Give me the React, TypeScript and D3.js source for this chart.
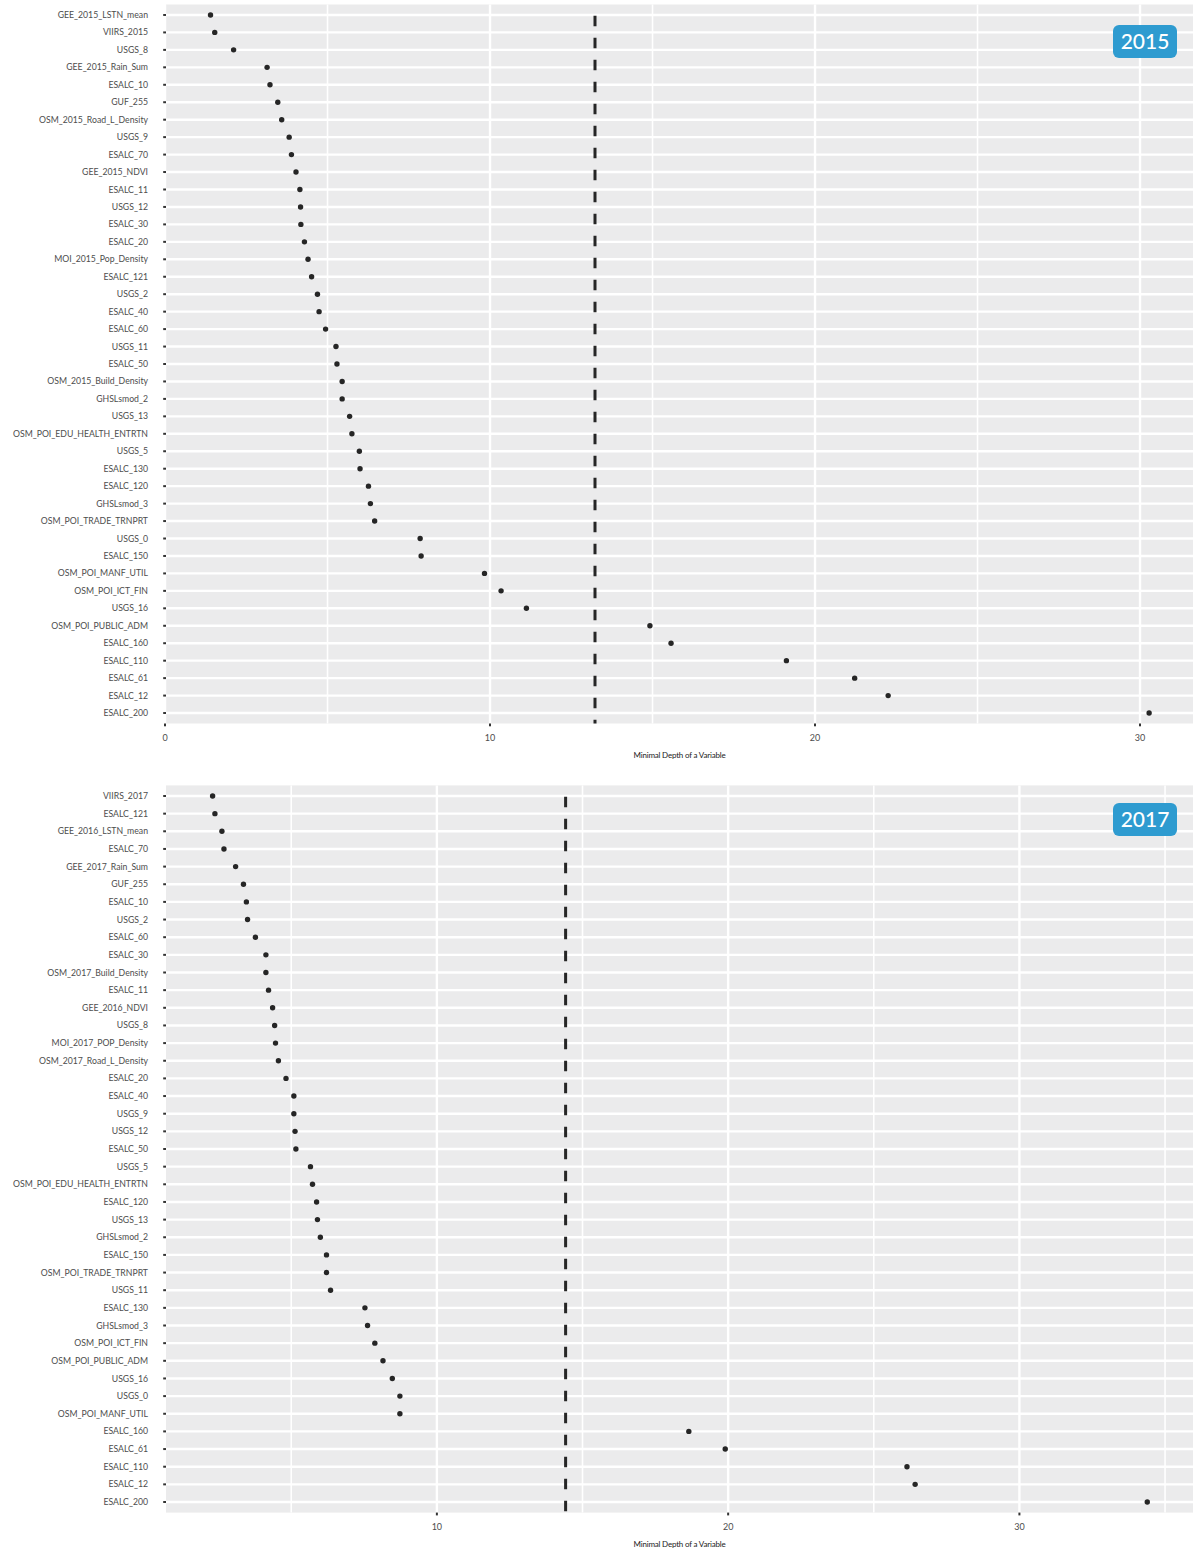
import React from "react";
import * as d3 from "d3";

const VARS_2015 = [
  "GEE_2015_LSTN_mean", "VIIRS_2015", "USGS_8", "GEE_2015_Rain_Sum", "ESALC_10", "GUF_255",
  "OSM_2015_Road_L_Density", "USGS_9", "ESALC_70", "GEE_2015_NDVI", "ESALC_11", "USGS_12",
  "ESALC_30", "ESALC_20", "MOI_2015_Pop_Density", "ESALC_121", "USGS_2", "ESALC_40", "ESALC_60",
  "USGS_11", "ESALC_50", "OSM_2015_Build_Density", "GHSLsmod_2", "USGS_13",
  "OSM_POI_EDU_HEALTH_ENTRTN", "USGS_5", "ESALC_130", "ESALC_120", "GHSLsmod_3",
  "OSM_POI_TRADE_TRNPRT", "USGS_0", "ESALC_150", "OSM_POI_MANF_UTIL", "OSM_POI_ICT_FIN",
  "USGS_16", "OSM_POI_PUBLIC_ADM", "ESALC_160", "ESALC_110", "ESALC_61", "ESALC_12", "ESALC_200",
];
const DEPTH_2015 = [
  1.40, 1.53, 2.11, 3.14, 3.23, 3.47, 3.59, 3.82, 3.89, 4.03, 4.15, 4.17, 4.18, 4.29, 4.40,
  4.51, 4.69, 4.74, 4.94, 5.26, 5.29, 5.45, 5.45, 5.68, 5.75, 5.98, 6.00, 6.26, 6.32, 6.45,
  7.85, 7.88, 9.83, 10.34, 11.12, 14.92, 15.57, 19.12, 21.22, 22.25, 30.28,
];
const MEAN_2015 = 13.23;

const VARS_2017 = [
  "VIIRS_2017", "ESALC_121", "GEE_2016_LSTN_mean", "ESALC_70", "GEE_2017_Rain_Sum", "GUF_255",
  "ESALC_10", "USGS_2", "ESALC_60", "ESALC_30", "OSM_2017_Build_Density", "ESALC_11",
  "GEE_2016_NDVI", "USGS_8", "MOI_2017_POP_Density", "OSM_2017_Road_L_Density", "ESALC_20",
  "ESALC_40", "USGS_9", "USGS_12", "ESALC_50", "USGS_5", "OSM_POI_EDU_HEALTH_ENTRTN",
  "ESALC_120", "USGS_13", "GHSLsmod_2", "ESALC_150", "OSM_POI_TRADE_TRNPRT", "USGS_11",
  "ESALC_130", "GHSLsmod_3", "OSM_POI_ICT_FIN", "OSM_POI_PUBLIC_ADM", "USGS_16", "USGS_0",
  "OSM_POI_MANF_UTIL", "ESALC_160", "ESALC_61", "ESALC_110", "ESALC_12", "ESALC_200",
];
const DEPTH_2017 = [
  2.30, 2.38, 2.62, 2.69, 3.09, 3.36, 3.46, 3.50, 3.77, 4.13, 4.13, 4.22, 4.36, 4.43, 4.46,
  4.56, 4.82, 5.09, 5.09, 5.13, 5.16, 5.66, 5.73, 5.87, 5.90, 6.00, 6.21, 6.21, 6.35, 7.53,
  7.62, 7.87, 8.15, 8.47, 8.73, 8.73, 18.65, 19.90, 26.14, 26.42, 34.39,
];
const MEAN_2017 = 14.42;

const XLIM_2015 = [0.03, 31.63];
const XLIM_2017 = [0.7, 35.96];
const XTICKS_2015 = [0, 10, 20, 30];
const XTICKS_2017 = [10, 20, 30];
const XMINOR_2015 = [5, 15, 25];
const XMINOR_2017 = [5, 15, 25, 35];
const AXIS_TITLE = "Minimal Depth of a Variable";

const W = 1193;
const H = 1553;
const PANEL_LEFT = 166;
const PANEL_RIGHT = 1193;
const BG = "#EBEBEC";
const TEXT = "#4D4D4D";
const DARK = "#262626";
const FONT = "Lato, 'Open Sans', sans-serif";

type PanelProps = {
  vars: string[];
  depth: number[];
  mean: number;
  xlim: number[];
  ticks: number[];
  minor: number[];
  top: number;
  bottom: number;
  label: string;
  badgeY: number;
};

function Panel({ vars, depth, mean, xlim, ticks, minor, top, bottom, label, badgeY }: PanelProps) {
  const x = d3.scaleLinear().domain(xlim).range([PANEL_LEFT, PANEL_RIGHT]);
  const y = d3.scalePoint<string>().domain(vars).range([top, bottom]).padding(0.6);
  return (
    <g>
      <rect x={PANEL_LEFT} y={top} width={PANEL_RIGHT - PANEL_LEFT} height={bottom - top} fill={BG} />
      {minor.map((t) => (
        <line key={"mn" + t} x1={x(t)} x2={x(t)} y1={top} y2={bottom} stroke="#fff" strokeWidth={1.6} />
      ))}
      {ticks.map((t) => (
        <line key={"mj" + t} x1={x(t)} x2={x(t)} y1={top} y2={bottom} stroke="#fff" strokeWidth={2.4} />
      ))}
      {vars.map((v) => (
        <line key={"h" + v} x1={PANEL_LEFT} x2={PANEL_RIGHT} y1={y(v)} y2={y(v)} stroke="#fff" strokeWidth={2.4} />
      ))}
      <line
        x1={x(mean)} x2={x(mean)} y1={top} y2={bottom}
        stroke={DARK} strokeWidth={3} strokeDasharray="10.5,11.5" strokeDashoffset={10.7}
      />
      {vars.map((v, i) => (
        <circle key={"p" + v} cx={x(depth[i])} cy={y(v)} r={2.7} fill={DARK} />
      ))}
      {vars.map((v) => (
        <g key={"yl" + v}>
          <line x1={PANEL_LEFT - 2.8} x2={PANEL_LEFT} y1={y(v)} y2={y(v)} stroke="#333" strokeWidth={2} />
          <text x={148} y={y(v)} dy="0.35em" textAnchor="end" fontSize={8.7} fill={TEXT} fontFamily={FONT}>
            {v}
          </text>
        </g>
      ))}
      {ticks.map((t) => (
        <g key={"xt" + t}>
          <line x1={x(t)} x2={x(t)} y1={bottom} y2={bottom + 2.8} stroke="#333" strokeWidth={2} />
          <text x={x(t)} y={bottom + 14} dy="0.35em" textAnchor="middle" fontSize={9} fill={TEXT} fontFamily={FONT}>
            {t}
          </text>
        </g>
      ))}
      <text
        x={(PANEL_LEFT + PANEL_RIGHT) / 2} y={bottom + 32} dy="0.35em" textAnchor="middle"
        fontSize={8} fill="#222" fontFamily={FONT} letterSpacing={-0.2}
      >
        {AXIS_TITLE}
      </text>
      <rect x={1113} y={badgeY} width={64} height={33} rx={6} ry={6} fill="#2E9BD0" />
      <text
        x={1145} y={badgeY + 16.5} dy="0.36em" textAnchor="middle" fontSize={21} fill="#fff"
        fontFamily={FONT} fontWeight={500}
      >
        {label}
      </text>
    </g>
  );
}

export default function App() {
  return (
    <svg
      width={W} height={H} viewBox={`0 0 ${W} ${H}`}
      style={{ position: "absolute", left: 0, top: 0, background: "#fff" }}
    >
      <rect x={0} y={0} width={W} height={H} fill="#fff" />
      <Panel
        vars={VARS_2015} depth={DEPTH_2015} mean={MEAN_2015} xlim={XLIM_2015}
        ticks={XTICKS_2015} minor={XMINOR_2015} top={4.5} bottom={723.5} label="2015" badgeY={25}
      />
      <Panel
        vars={VARS_2017} depth={DEPTH_2017} mean={MEAN_2017} xlim={XLIM_2017}
        ticks={XTICKS_2017} minor={XMINOR_2017} top={785.4} bottom={1512.6} label="2017" badgeY={803}
      />
    </svg>
  );
}
